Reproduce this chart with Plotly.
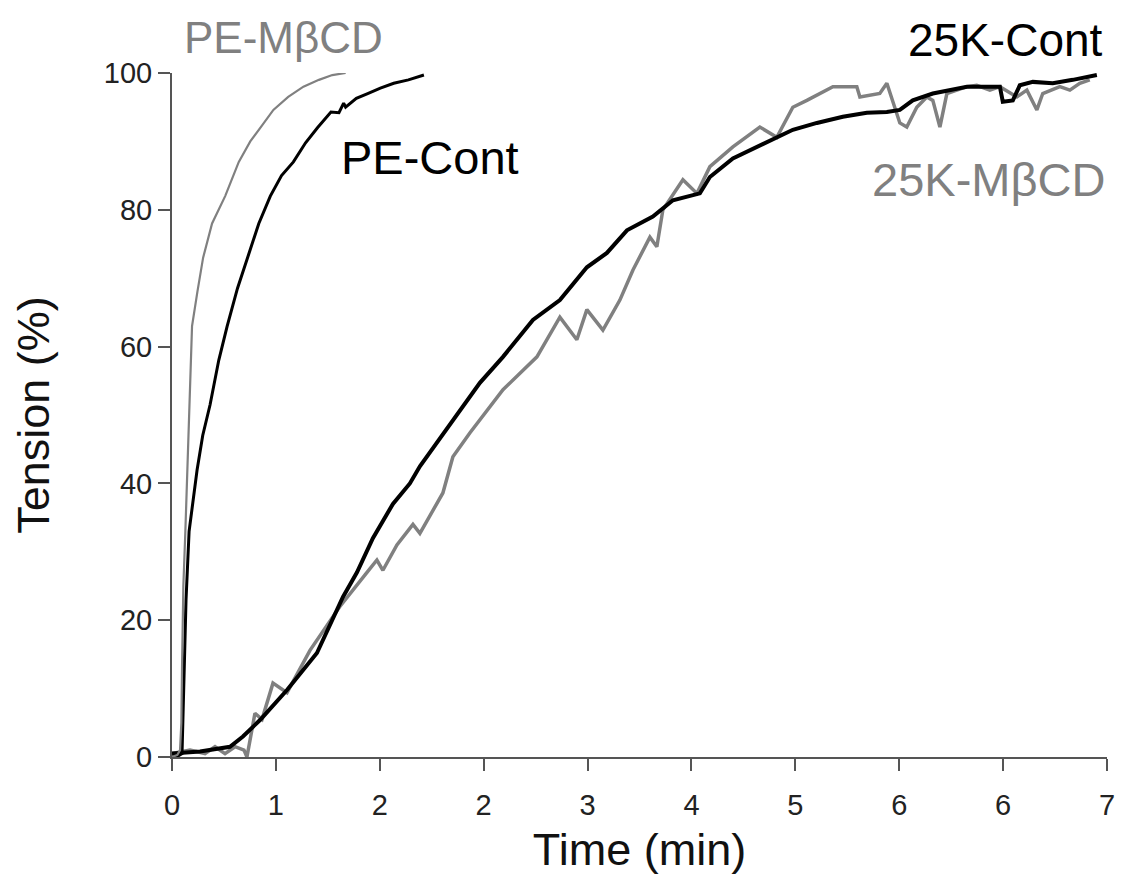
import numpy as np
import plotly.graph_objects as go

# ---- data (time in min, tension in %) ----
pe_mbcd_t = [0, 0.04, 0.06, 0.07, 0.075, 0.085, 0.1, 0.115, 0.128, 0.15, 0.19, 0.233, 0.3,
             0.398, 0.5, 0.586, 0.68, 0.759, 0.87, 0.984, 1.1, 1.2, 1.30]
pe_mbcd_y = [0, 0.3, 1, 5, 13, 25, 33, 42, 51, 63, 68, 73, 78,
             82, 87, 90, 92.5, 94.6, 96.5, 98, 99, 99.7, 100]

pe_cont_t = [0, 0.05, 0.075, 0.09, 0.105, 0.128, 0.16, 0.188, 0.23, 0.285, 0.35, 0.413, 0.49,
             0.563, 0.65, 0.736, 0.82, 0.909, 1.0, 1.089, 1.19, 1.25, 1.285, 1.3, 1.38, 1.465,
             1.56, 1.66, 1.77, 1.886]
pe_cont_y = [0, 0.2, 0.5, 13, 23, 33, 38, 42, 47, 51.5, 58, 63, 68.5,
             73, 78, 82, 85, 87, 89.8, 92, 94.3, 94.2, 95.6, 95.0, 96.3, 97,
             97.8, 98.5, 99, 99.7]

k25_cont_t = [0, 0.21, 0.434, 0.531, 0.659, 0.861, 1.085, 1.28, 1.385, 1.504, 1.654, 1.781,
              1.856, 2.103, 2.305, 2.478, 2.702, 2.904, 3.106, 3.256, 3.406, 3.6, 3.75,
              3.952, 4.027, 4.199, 4.454, 4.648, 4.828, 5.022, 5.202, 5.352, 5.449, 5.546,
              5.696, 5.823, 5.951, 6.198, 6.22, 6.295, 6.347, 6.445, 6.594, 6.744, 6.924]
k25_cont_y = [0.5, 0.8, 1.5, 3, 5.4, 9.8, 15.2, 23.4, 27, 32, 37, 40,
              42.5, 49.3, 54.7, 58.5, 63.9, 66.8, 71.6, 73.7, 77, 79, 81.4,
              82.4, 84.8, 87.5, 89.8, 91.7, 92.7, 93.6, 94.2, 94.3, 94.6, 96,
              97, 97.5, 98, 98, 95.8, 96, 98.2, 98.7, 98.5, 99, 99.7]

k25_mbcd_t = [0, 0.135, 0.247, 0.322, 0.397, 0.472, 0.539, 0.561, 0.621, 0.674,
              0.756, 0.861, 1.033, 1.257, 1.46, 1.534, 1.579, 1.684, 1.804, 1.856,
              2.028, 2.103, 2.231, 2.478, 2.732, 2.904, 3.031, 3.106, 3.226, 3.353,
              3.451, 3.578, 3.63, 3.675, 3.825, 3.93, 4.027, 4.199, 4.401, 4.528,
              4.648, 4.753, 4.948, 5.127, 5.15, 5.299, 5.352, 5.449, 5.501, 5.576,
              5.651, 5.696, 5.749, 5.801, 5.951, 6.025, 6.123, 6.198, 6.325, 6.4,
              6.475, 6.519, 6.647, 6.722, 6.796, 6.871]
k25_mbcd_y = [0.5, 1, 0.5, 1.5, 0.5, 1.5, 1, 0, 6.4, 5.5,
              10.8, 9.4, 15.6, 22, 27, 28.8, 27.3, 31, 34, 32.7,
              38.6, 43.9, 47.4, 53.7, 58.5, 64.3, 61, 65.4, 62.4, 66.8,
              71.2, 76, 74.6, 80, 84.4, 82.4, 86.3, 89.2, 92.1, 90.6,
              95, 96, 98, 98, 96.5, 97, 98.5, 92.7, 92.1, 95,
              96.5, 96, 92.1, 97, 98, 98.2, 97.5, 98, 96.5, 97.5,
              94.6, 97, 98, 97.5, 98.5, 99]

x_tick_labels = ["0", "1", "2", "2", "3", "4", "5", "6", "6", "7"]
y_tick_vals = [0, 20, 40, 60, 80, 100]

FONT = "Liberation Sans, Arial, sans-serif"
GREY = "#808080"

fig = go.Figure()
fig.add_trace(go.Scatter(x=k25_mbcd_t, y=k25_mbcd_y, mode="lines",
                         line=dict(color=GREY, width=3.5), cliponaxis=False))
fig.add_trace(go.Scatter(x=k25_cont_t, y=k25_cont_y, mode="lines",
                         line=dict(color="#000000", width=4), cliponaxis=False))
fig.add_trace(go.Scatter(x=pe_cont_t, y=pe_cont_y, mode="lines",
                         line=dict(color="#000000", width=3), cliponaxis=False))
fig.add_trace(go.Scatter(x=pe_mbcd_t, y=pe_mbcd_y, mode="lines",
                         line=dict(color=GREY, width=2.2), cliponaxis=False))

annots = [
    ("PE-M\u03b2CD", 0.119, 1.052, GREY, 44),
    ("PE-Cont", 0.276, 0.876, "#000000", 47),
    ("25K-Cont", 0.891, 1.048, "#000000", 46),
    ("25K-M\u03b2CD", 0.873, 0.844, GREY, 47),
]
for txt, ax_, ay_, col, fs in annots:
    fig.add_annotation(x=ax_, y=ay_, xref="paper", yref="paper", text=txt, showarrow=False,
                       xanchor="center", yanchor="middle", borderpad=0,
                       font=dict(family=FONT, size=fs, color=col))

fig.update_layout(
    width=1131, height=889,
    margin=dict(l=164, r=32, t=65, b=140),
    paper_bgcolor="white", plot_bgcolor="white",
    showlegend=False,
    font=dict(family=FONT, color="#222222"),
)
fig.update_xaxes(
    range=[0, 7], tickvals=list(np.linspace(0, 7, 10)), ticktext=x_tick_labels,
    showline=True, linecolor="#555555", linewidth=2, showgrid=False, zeroline=False,
    ticks="outside", ticklen=12, tickwidth=2, tickcolor="#555555", ticklabelstandoff=9,
    tickfont=dict(family=FONT, size=29, color="#222222"),
    title=dict(text="Time (min)", font=dict(family=FONT, size=45, color="#111111"), standoff=14),
)
fig.update_yaxes(
    range=[0, 100], tickvals=y_tick_vals,
    showline=True, linecolor="#555555", linewidth=2, showgrid=False, zeroline=False,
    ticks="outside", ticklen=12, tickwidth=2, tickcolor="#555555",
    tickfont=dict(family=FONT, size=29, color="#222222"),
    title=dict(text="Tension (%)", font=dict(family=FONT, size=45, color="#111111"), standoff=42),
)

fig.write_html("out.html")
